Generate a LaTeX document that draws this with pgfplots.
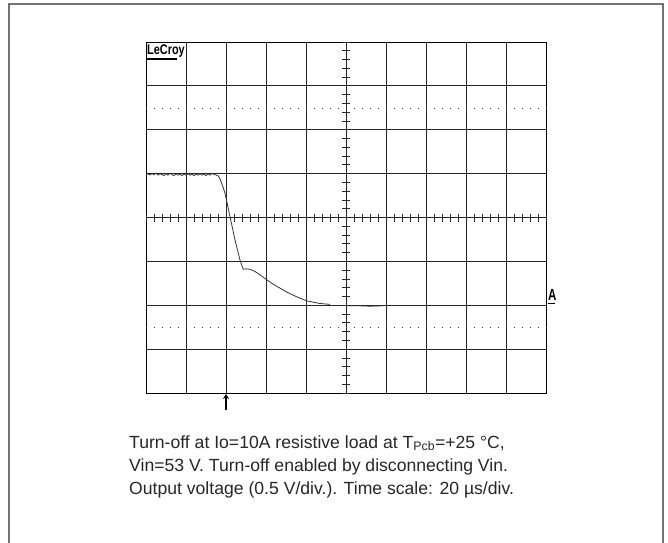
\documentclass[border=0pt]{standalone}
\usepackage{pgfplots}
\pgfplotsset{compat=1.18}
\usepackage{fontspec}
\usetikzlibrary{arrows.meta}
\newfontfamily\capfont{Liberation Sans}
\begin{document}
\begin{tikzpicture}
\useasboundingbox (0pt,0pt) rectangle (668pt,542pt);
\draw[black!55, line width=1.3pt] (9pt,538pt) rectangle (663pt,-20pt);
\begin{axis}[
  at={(146pt,149pt)}, anchor=south west,
  width=400pt, height=351pt, scale only axis,
  xmin=0, xmax=10, ymin=-4, ymax=4,
  xtick={0,...,10}, ytick={-4,...,4},
  xticklabels={}, yticklabels={},
  major tick length=0pt,
  grid=major,
  major grid style={black!85, line width=0.9pt},
  axis line style={black, line width=1pt},
  clip=false,
]
\addplot[black!80, line width=0.8pt] coordinates {
(0.00,0.98) (0.05,0.995) (0.10,0.97) (0.15,1.00) (0.20,0.975) (0.25,1.01) (0.30,0.965)
(0.35,0.995) (0.40,0.98) (0.45,0.955) (0.50,1.00) (0.55,0.965) (0.60,1.01) (0.65,0.975)
(0.70,0.955) (0.75,0.995) (0.80,0.965) (0.85,0.985) (0.90,0.955) (0.95,0.99) (1.00,0.965)
(1.05,1.00) (1.10,0.965) (1.15,0.985) (1.20,0.955) (1.25,0.99) (1.30,0.965) (1.35,1.00)
(1.40,0.965) (1.45,0.985) (1.50,0.955) (1.55,0.995) (1.60,0.965) (1.65,1.01) (1.70,0.98)
(1.75,0.97) (1.81,0.945) (1.85,0.88) (1.89,0.78) (1.935,0.67) (1.975,0.55)
(2.02,0.36) (2.10,0.02) (2.225,-0.51) (2.35,-0.97) (2.43,-1.18) (2.50,-1.17)
(2.60,-1.18) (2.725,-1.23) (2.87,-1.32) (3.02,-1.42) (3.18,-1.52) (3.35,-1.61)
(3.52,-1.70) (3.68,-1.77) (3.85,-1.84) (4.02,-1.90) (4.18,-1.93) (4.35,-1.96)
(4.48,-1.97) (4.60,-1.98)
};
\addplot[black!85, line width=0.9pt] coordinates {
(5.02,-2.01) (5.30,-2.01) (5.60,-2.02) (5.93,-2.01)
};
\end{axis}
% centre graticule ticks
\foreach \i in {0,...,50} {
  \draw[black!85, line width=0.8pt] ({146pt+8pt*\i},320.5pt) -- ({146pt+8pt*\i},328.5pt);
}
\foreach \i in {0,...,40} {
  \draw[black!85, line width=0.8pt] (342pt,{149pt+8.775pt*\i}) -- (350pt,{149pt+8.775pt*\i});
}
% dotted lines
\draw[black!75, line width=1pt, dash pattern=on 1pt off 7pt, dash phase=0.5pt] (146pt,434pt) -- (546pt,434pt);
\draw[black!75, line width=1pt, dash pattern=on 1pt off 7pt, dash phase=0.5pt] (146pt,215pt) -- (546pt,215pt);
% LeCroy label
\node[anchor=base west, inner sep=0pt, xscale=0.78, font=\capfont\bfseries\fontsize{14}{14}\selectfont] at (147pt,487pt) {LeCroy};
\draw[black, line width=1.4pt] (146pt,483pt) -- (177pt,483pt);
% channel marker
\node[anchor=base west, inner sep=0pt, xscale=0.72, font=\capfont\bfseries\fontsize{16}{16}\selectfont] at (548pt,242pt) {A};
\draw[black, line width=1.4pt] (547.5pt,238.5pt) -- (555pt,238.5pt);
% trigger arrow
\draw[black, line width=2.2pt, -{Stealth[length=5pt,width=6pt]}] (226pt,132pt) -- (226pt,148pt);
% caption
\begin{scope}[every node/.style={anchor=base west, inner sep=0pt, text=black!85, font=\capfont\fontsize{17.6}{23}\selectfont}]
\node at (129pt,94pt) {Turn-off at Io=10A resistive load at T\textsubscript{Pcb}=+25 °C,};
\node at (129pt,71pt) {Vin=53 V. Turn-off enabled by disconnecting Vin.};
\node at (129pt,48pt) {Output voltage (0.5 V/div.). Time scale: 20 µs/div.};
\end{scope}
\end{tikzpicture}
\end{document}
